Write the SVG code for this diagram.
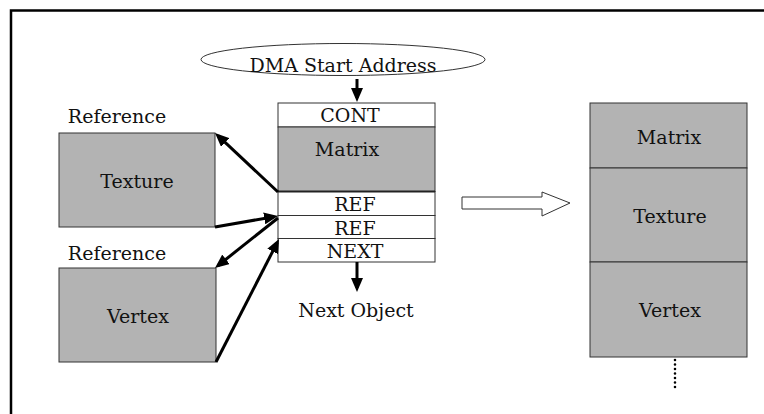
<svg xmlns="http://www.w3.org/2000/svg" width="764" height="414" viewBox="0 0 764 414">
<defs>
<style>
text{font-family:"DejaVu Serif","Liberation Serif",serif;font-size:19px;fill:#111;text-anchor:middle}
.g{fill:#b3b3b3;stroke:#333;stroke-width:1}
.w{fill:#fff;stroke:#333;stroke-width:1}
.c{stroke:#000;stroke-width:3;fill:none;marker-end:url(#ah)}
</style>
<marker id="ah" markerUnits="userSpaceOnUse" markerWidth="14" markerHeight="12" refX="10" refY="6" orient="auto">
<path d="M0,0 L14,6 L0,12 z" fill="#000"/>
</marker>
</defs>
<rect width="764" height="414" fill="#fff"/>
<path d="M11,414 V10.5 H764" fill="none" stroke="#000" stroke-width="2.5"/>

<g id="dma">
<ellipse cx="343" cy="59.5" rx="142" ry="16" fill="#fff" stroke="#333" stroke-width="1"/>
<text x="343" y="71.5">DMA Start Address</text>
</g>

<g id="stack">
<rect class="w" x="278" y="103" width="157" height="24"/>
<text x="350" y="122">CONT</text>
<rect class="g" x="278" y="127" width="157" height="64.5"/>
<text x="347" y="156">Matrix</text>
<rect class="w" x="278" y="191.5" width="157" height="24"/>
<text x="355" y="211">REF</text>
<rect class="w" x="278" y="215.5" width="157" height="23"/>
<text x="355" y="235">REF</text>
<rect class="w" x="278" y="238.5" width="157" height="23.5"/>
<text x="355" y="258">NEXT</text>
<line x1="278" y1="191.5" x2="435" y2="191.5" stroke="#222" stroke-width="2"/>
</g>

<g id="texture">
<text x="117" y="123">Reference</text>
<rect class="g" x="59" y="133" width="156" height="94"/>
<text x="137" y="188">Texture</text>
</g>

<g id="vertex">
<text x="117" y="260">Reference</text>
<rect class="g" x="59" y="268" width="157" height="94"/>
<text x="138" y="323">Vertex</text>
</g>

<g id="next">
<text x="356" y="317">Next Object</text>
</g>

<g id="result">
<rect class="g" x="590" y="103" width="157" height="65"/>
<text x="669" y="144">Matrix</text>
<rect class="g" x="590" y="168" width="157" height="94"/>
<text x="670" y="223">Texture</text>
<rect class="g" x="590" y="262" width="157" height="95"/>
<text x="670" y="317">Vertex</text>
<line x1="675" y1="360" x2="675" y2="388" stroke="#000" stroke-width="2.6" stroke-linecap="round" stroke-dasharray="0 4.5"/>
</g>

<g id="connectors">
<line class="c" x1="357" y1="79" x2="357" y2="98"/>
<line class="c" x1="357" y1="262" x2="357" y2="288"/>
<line class="c" x1="278" y1="192" x2="217.9" y2="135.7"/>
<line class="c" x1="215" y1="227" x2="274.1" y2="216.7"/>
<line class="c" x1="278" y1="218" x2="218.1" y2="265.5"/>
<line class="c" x1="216" y1="362" x2="277.2" y2="242.6"/>
<path d="M462,197 H542 V192 L570,203 L542,216 V209 H462 z" fill="#fff" stroke="#333" stroke-width="1"/>
</g>
</svg>
